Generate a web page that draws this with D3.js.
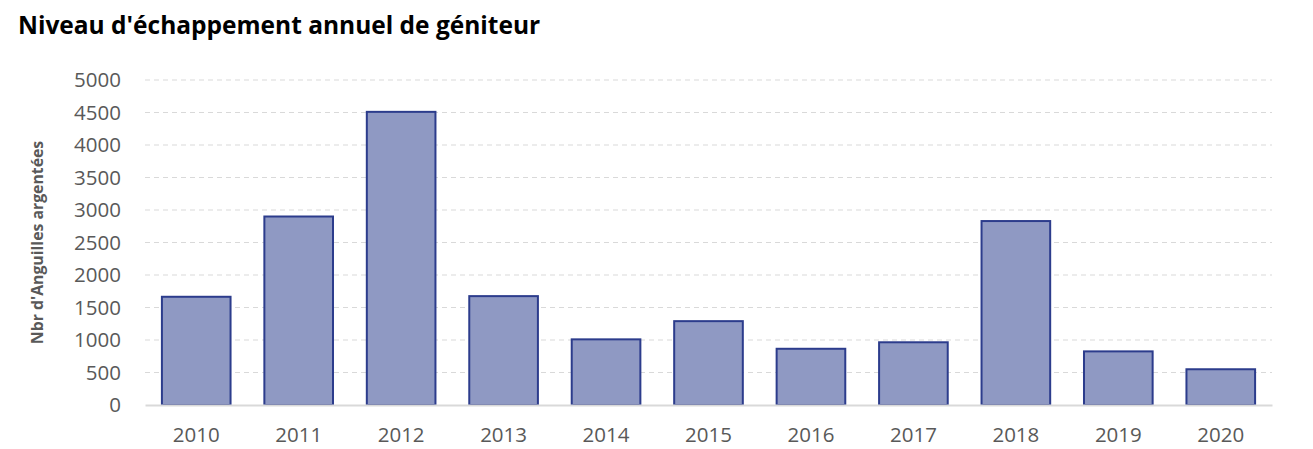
<!DOCTYPE html>
<html>
<head>
<meta charset="utf-8">
<script src="https://cdn.jsdelivr.net/npm/d3@7"></script>
<style>
  body { margin: 0; background: #fff; }
  svg text { font-family: "Open Sans", "Liberation Sans", sans-serif; }
</style>
</head>
<body>
<svg id="chart" width="1313" height="449"></svg>
<script>
const years = ["2010", "2011", "2012", "2013", "2014", "2015", "2016", "2017", "2018", "2019", "2020"];
const eels = [1665, 2900, 4510, 1675, 1010, 1290, 865, 965, 2830, 825, 550];
const yTicks = [0, 500, 1000, 1500, 2000, 2500, 3000, 3500, 4000, 4500, 5000];

const svg = d3.select("#chart");
const margin = { top: 80, right: 41, bottom: 44, left: 145 };
const width = 1313, height = 449;

const x = d3.scaleBand()
    .domain(years)
    .range([margin.left, width - margin.right])
    .paddingInner(0.33)
    .paddingOuter(0.165);

const y = d3.scaleLinear()
    .domain([0, 5000])
    .range([height - margin.bottom, margin.top]);

// title
svg.append("text")
    .attr("x", 18)
    .attr("y", 34)
    .attr("font-size", 24.5)
    .attr("font-weight", "bold")
    .attr("fill", "#000")
    .text("Niveau d'échappement annuel de géniteur");

// gridlines
svg.append("g")
    .selectAll("line")
    .data(yTicks.filter(d => d > 0))
    .join("line")
    .attr("x1", margin.left)
    .attr("x2", width - margin.right)
    .attr("y1", d => y(d))
    .attr("y2", d => y(d))
    .attr("stroke", "#d9d9d9")
    .attr("stroke-width", 1)
    .attr("stroke-dasharray", "5,4");

// y axis
const yAxis = svg.append("g")
    .attr("transform", `translate(${margin.left - 24},0)`)
    .call(d3.axisLeft(y).tickValues(yTicks).tickFormat(d3.format("d")).tickSize(0).tickPadding(0));
yAxis.select(".domain").remove();
yAxis.selectAll("text")
    .attr("font-size", 20.5)
    .attr("fill", "#595959")
    .style("font-family", "'Open Sans', sans-serif");

// y axis title
svg.append("text")
    .attr("transform", `translate(43, ${y(2500)}) rotate(-90)`)
    .attr("text-anchor", "middle")
    .attr("font-size", 15.8)
    .attr("font-weight", "bold")
    .attr("fill", "#595959")
    .text("Nbr d'Anguilles argentées");

// bars
svg.append("g")
    .selectAll("rect")
    .data(years.map((yr, i) => ({ yr, v: eels[i] })))
    .join("rect")
    .attr("x", d => x(d.yr))
    .attr("y", d => y(d.v))
    .attr("width", x.bandwidth())
    .attr("height", d => y(0) - y(d.v))
    .attr("fill", "#8f99c3")
    .attr("stroke", "#2c3c8c")
    .attr("stroke-width", 2);

// x axis
const xAxis = svg.append("g")
    .attr("transform", `translate(0,${y(0)})`)
    .call(d3.axisBottom(x).tickSize(0).tickPadding(22));
xAxis.select(".domain")
    .attr("stroke", "#d9d9d9")
    .attr("stroke-width", 2);
xAxis.selectAll("text")
    .attr("font-size", 20.5)
    .attr("fill", "#595959")
    .style("font-family", "'Open Sans', sans-serif");
</script>
</body>
</html>
